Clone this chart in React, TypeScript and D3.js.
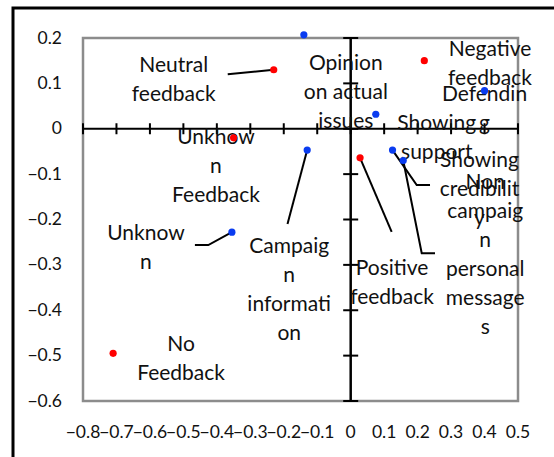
import { useRef, useEffect } from 'react';
import * as d3 from 'd3';

// red series (feedback types)
const redNames = ['Neutral feedback', 'Unkhown Feedback', 'Negative feedback', 'Positive feedback', 'No Feedback'];
const redX = [-0.23, -0.35, 0.22, 0.028, -0.71];
const redY = [0.13, -0.02, 0.15, -0.064, -0.495];

// blue series (message types)
const blueNames = ['Opinion on actual issues', 'Showing support', 'Defending', 'Campaign information', 'Showing credibility', 'Non campaign personal messages', 'Unknown'];
const blueX = [-0.14, 0.075, 0.40, -0.13, 0.125, 0.157, -0.355];
const blueY = [0.207, 0.032, 0.084, -0.047, -0.047, -0.07, -0.228];

const xTicks = [-0.8, -0.7, -0.6, -0.5, -0.4, -0.3, -0.2, -0.1, 0, 0.1, 0.2, 0.3, 0.4, 0.5];
const yTicks = [0.2, 0.1, 0, -0.1, -0.2, -0.3, -0.4, -0.5, -0.6];

// label placement (offsets from the point, px) + how Excel wrapped them
interface LabelPos { lines: string[]; dx: number; dy: number; leader?: [number, number][] }
const labelPos: Record<string, LabelPos> = {
    'Neutral feedback': { lines: ['Neutral', 'feedback'], dx: -100, dy: 2, leader: [[-46, 4.5]] },
    'Unkhown Feedback': { lines: ['Unkhow', 'n', 'Feedback'], dx: -17.6, dy: 6.2 },
    'Negative feedback': { lines: ['Negative', 'feedback'], dx: 65.7, dy: -4.7 },
    'Positive feedback': { lines: ['Positive', 'feedback'], dx: 32, dy: 117, leader: [[31.6, 74]] },
    'No Feedback': { lines: ['No', 'Feedback'], dx: 68, dy: -2.4 },
    'Opinion on actual issues': { lines: ['Opinion', 'on actual', 'issues'], dx: 42, dy: 34.7 },
    'Showing support': { lines: ['Showing', 'support'], dx: 61, dy: 15.8 },
    'Defending': { lines: ['Defendin', 'g'], dx: 0, dy: 10.4 },
    'Campaign information': { lines: ['Campaig', 'n', 'informati', 'on'], dx: -18, dy: 103, leader: [[-19.7, 74]] },
    'Showing credibility': { lines: ['Showing', 'credibilit', 'y'], dx: 87, dy: 17, leader: [[24.2, 35], [37.5, 35]] },
    'Non campaign personal messages': { lines: ['Non', 'campaig', 'n', 'personal', 'message', 's'], dx: 82, dy: 28.5, leader: [[18.5, 92.8], [31.8, 92.8]] },
    'Unknown': { lines: ['Unknow', 'n'], dx: -86, dy: 7.8, leader: [[-23.6, 12.8], [-37, 12.8]] },
};

const W = 554;
const H = 457;
const FONT = 'Lato, "Open Sans", sans-serif';

export default function App() {
    const svgRef = useRef<SVGSVGElement>(null);

    useEffect(() => {
        if (!svgRef.current) return;
        const svg = d3.select(svgRef.current);
        svg.selectAll('*').remove();

        const plot = { left: 83, top: 38, right: 518, bottom: 401 };
        const x = d3.scaleLinear().domain([-0.8, 0.5]).range([plot.left, plot.right]);
        const y = d3.scaleLinear().domain([-0.6, 0.2]).range([plot.bottom, plot.top]);

        // outer frame (top + left only)
        svg.append('path')
            .attr('d', `M13,${H}V8H${W}`)
            .attr('fill', 'none')
            .attr('stroke', '#000')
            .attr('stroke-width', 3);

        // plot area border
        svg.append('rect')
            .attr('x', plot.left)
            .attr('y', plot.top)
            .attr('width', plot.right - plot.left)
            .attr('height', plot.bottom - plot.top)
            .attr('fill', 'none')
            .attr('stroke', '#8c8c8c')
            .attr('stroke-width', 2.5);

        // tick labels
        svg.append('g')
            .selectAll('text')
            .data(yTicks)
            .enter()
            .append('text')
            .attr('x', 62)
            .attr('y', d => y(d) + 5.5)
            .attr('text-anchor', 'end')
            .attr('font-family', FONT)
            .attr('font-size', '17.5px')
            .attr('fill', '#111')
            .text(d => d3.format('')(+d.toFixed(1)));

        svg.append('g')
            .selectAll('text')
            .data(xTicks)
            .enter()
            .append('text')
            .attr('x', d => x(d))
            .attr('y', 438)
            .attr('text-anchor', 'middle')
            .attr('font-family', FONT)
            .attr('font-size', '17.5px')
            .attr('fill', '#111')
            .text(d => d3.format('')(+d.toFixed(1)));

        // cross axes through the origin
        const axes = svg.append('g').attr('stroke', '#000');
        axes.append('line')
            .attr('x1', plot.left).attr('x2', plot.right)
            .attr('y1', y(0)).attr('y2', y(0))
            .attr('stroke-width', 2);
        axes.selectAll('line.xt')
            .data(xTicks)
            .enter()
            .append('line')
            .attr('class', 'xt')
            .attr('x1', d => x(d)).attr('x2', d => x(d))
            .attr('y1', y(0) - 5.5).attr('y2', y(0) + 5.5)
            .attr('stroke-width', 2);
        axes.append('line')
            .attr('x1', x(0)).attr('x2', x(0))
            .attr('y1', plot.top).attr('y2', plot.bottom)
            .attr('stroke-width', 2.5);
        axes.selectAll('line.yt')
            .data(yTicks)
            .enter()
            .append('line')
            .attr('class', 'yt')
            .attr('x1', x(0) - 7.5).attr('x2', x(0) + 7.5)
            .attr('y1', d => y(d)).attr('y2', d => y(d))
            .attr('stroke-width', 2);

        const points = [
            ...redNames.map((name, i) => ({ name, vx: redX[i], vy: redY[i], color: '#ff0000' })),
            ...blueNames.map((name, i) => ({ name, vx: blueX[i], vy: blueY[i], color: '#0a3cf0' })),
        ];

        // leader lines
        const lineGen = d3.line();
        points.forEach(p => {
            const lp = labelPos[p.name];
            if (!lp || !lp.leader) return;
            const px = x(p.vx);
            const py = y(p.vy);
            const pts: [number, number][] = [[px, py], ...lp.leader.map(([dx, dy]) => [px + dx, py + dy] as [number, number])];
            svg.append('path')
                .attr('d', lineGen(pts))
                .attr('fill', 'none')
                .attr('stroke', '#000')
                .attr('stroke-width', 2);
        });

        // data labels
        points.forEach(p => {
            const lp = labelPos[p.name];
            const t = svg.append('text')
                .attr('font-family', FONT)
                .attr('font-size', '21px')
                .attr('fill', '#111')
                .attr('text-anchor', 'middle');
            lp.lines.forEach((line, k) => {
                t.append('tspan')
                    .attr('x', x(p.vx) + lp.dx)
                    .attr('y', y(p.vy) + lp.dy + k * 29)
                    .text(line);
            });
        });

        // markers on top
        svg.append('g')
            .selectAll('circle')
            .data(points)
            .enter()
            .append('circle')
            .attr('cx', d => x(d.vx))
            .attr('cy', d => y(d.vy))
            .attr('r', 3.6)
            .attr('fill', d => d.color);
    }, []);

    return (
        <div style={{ position: 'absolute', left: 0, top: 0, width: W, height: H, background: '#fff' }}>
            <svg ref={svgRef} width={W} height={H} style={{ display: 'block' }} />
        </div>
    );
}
